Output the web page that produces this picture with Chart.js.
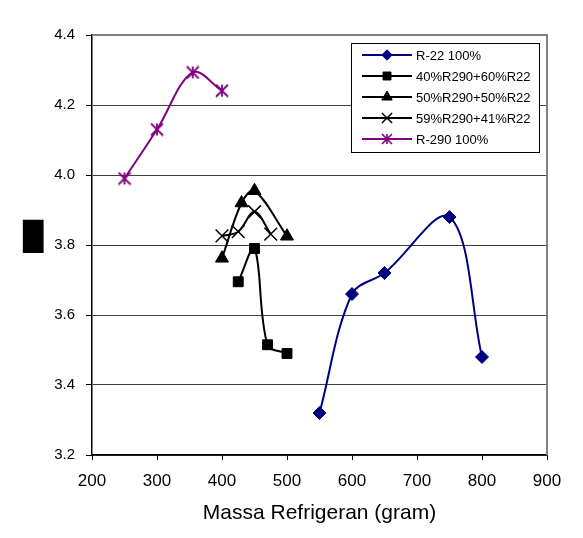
<!DOCTYPE html>
<html>
<head>
<meta charset="utf-8">
<script src="https://cdn.jsdelivr.net/npm/chart.js@4/dist/chart.umd.min.js"></script>
<style>
html,body{margin:0;padding:0;background:#fff;}
#wrap{position:relative;width:583px;height:538px;}
</style>
</head>
<body>
<div id="wrap"><canvas id="c" width="583" height="538"></canvas></div>
<script>
// ---- data ----
const seriesNames = ['R-22 100%', '40%R290+60%R22', '50%R290+50%R22', '59%R290+41%R22', 'R-290 100%'];
const massR22 = [550, 600, 650, 750, 800];
const copR22  = [3.32, 3.66, 3.72, 3.88, 3.48];
const mass40  = [425, 450, 470, 500];
const cop40   = [3.695, 3.79, 3.515, 3.49];
const mass50  = [400, 430, 450, 500];
const cop50   = [3.762, 3.92, 3.955, 3.825];
const mass59  = [400, 425, 450, 475];
const cop59   = [3.826, 3.838, 3.895, 3.831];
const massR290 = [250, 300, 355, 400];
const copR290  = [3.99, 4.13, 4.293, 4.241];
const xTitle = 'Massa Refrigeran (gram)';
const yTitle = '\u2588';

const toPts = (xs, ys) => xs.map((x, i) => ({x: x, y: ys[i]}));

// asterisk marker (X with a vertical bar), like the spreadsheet "star" marker
function makeStar(color, size, lw) {
  const c = document.createElement('canvas');
  c.width = size; c.height = size;
  const g = c.getContext('2d');
  g.strokeStyle = color; g.lineWidth = lw;
  const m = size / 2, h = size / 2 - 1;
  g.beginPath();
  g.moveTo(m - h, m - h); g.lineTo(m + h, m + h);
  g.moveTo(m + h, m - h); g.lineTo(m - h, m + h);
  g.moveTo(m, m - h); g.lineTo(m, m + h);
  g.stroke();
  return c;
}
const starImg = makeStar('#800080', 14, 1.8);
const starImgSmall = makeStar('#800080', 12, 1.6);

const styles = [
  {color: '#000080', pointStyle: 'rectRot', radius: 6.5, bw: 1},
  {color: '#000000', pointStyle: 'rect', radius: 7, bw: 1},
  {color: '#000000', pointStyle: 'triangle', radius: 7.5, bw: 1},
  {color: '#000000', pointStyle: 'crossRot', radius: 9, bw: 1.5},
  {color: '#800080', pointStyle: starImg, radius: 7, bw: 1.5}
];
const dataSets = [toPts(massR22, copR22), toPts(mass40, cop40), toPts(mass50, cop50), toPts(mass59, cop59), toPts(massR290, copR290)];

const datasets = dataSets.map((d, i) => ({
  label: seriesNames[i],
  data: d,
  showLine: true,
  tension: 0.35,
  borderColor: styles[i].color,
  backgroundColor: styles[i].color,
  borderWidth: 2,
  pointStyle: styles[i].pointStyle,
  pointRadius: styles[i].radius,
  pointBorderColor: styles[i].color,
  pointBackgroundColor: styles[i].color,
  pointBorderWidth: styles[i].bw,
  pointHoverRadius: styles[i].radius
}));

const FONT = '"Liberation Sans", Arial, sans-serif';

const framePlugin = {
  id: 'frame',
  beforeDatasetsDraw(chart) {
    const {ctx, chartArea: a} = chart;
    ctx.save();
    ctx.strokeStyle = '#808080';
    ctx.lineWidth = 2;
    ctx.beginPath();
    ctx.moveTo(a.left, a.top);
    ctx.lineTo(a.right, a.top);
    ctx.lineTo(a.right, a.bottom);
    ctx.stroke();
    ctx.restore();
  },
  afterDraw(chart) {
    const {ctx, chartArea: a} = chart;
    // y-axis title (unreadable glyph in the source, shown as a block)
    ctx.save();
    ctx.fillStyle = '#000';
    ctx.font = '28px "DejaVu Sans"';
    ctx.textAlign = 'center';
    ctx.textBaseline = 'middle';
    ctx.translate(a.left - 59, (a.top + a.bottom) / 2 - 6);
    ctx.scale(0.94, 1);
    ctx.fillText(yTitle, 0, 0);
    ctx.restore();

    // legend
    const lx = a.left + 259, ly = a.top + 8, lw = 188, lh = 109;
    ctx.save();
    ctx.fillStyle = '#fff';
    ctx.fillRect(lx, ly, lw, lh);
    ctx.strokeStyle = '#000';
    ctx.lineWidth = 1;
    ctx.strokeRect(lx + 0.5, ly + 0.5, lw, lh);
    ctx.font = '13px ' + FONT;
    ctx.textBaseline = 'middle';
    ctx.textAlign = 'left';
    chart.data.datasets.forEach((ds, i) => {
      const yy = ly + 12 + i * 21;
      ctx.strokeStyle = ds.borderColor;
      ctx.lineWidth = 2;
      ctx.beginPath();
      ctx.moveTo(lx + 11, yy);
      ctx.lineTo(lx + 61, yy);
      ctx.stroke();
      ctx.fillStyle = ds.backgroundColor;
      ctx.strokeStyle = ds.borderColor;
      ctx.lineWidth = ds.pointBorderWidth;
      const ps = (ds.pointStyle === starImg) ? starImgSmall : ds.pointStyle;
      Chart.helpers.drawPoint(ctx, {pointStyle: ps, radius: ds.pointRadius * 0.8, borderWidth: ds.pointBorderWidth, rotation: 0}, lx + 36, yy);
      ctx.fillStyle = '#000';
      ctx.fillText(ds.label, lx + 65, yy + 1);
    });
    ctx.restore();
  }
};

new Chart(document.getElementById('c'), {
  type: 'scatter',
  data: {datasets},
  options: {
    responsive: false,
    animation: false,
    devicePixelRatio: 1,
    layout: {padding: {left: 0, right: 36, top: 35, bottom: 0}},
    plugins: {legend: {display: false}, tooltip: {enabled: false}},
    scales: {
      x: {
        type: 'linear', min: 200, max: 900,
        ticks: {stepSize: 100, color: '#000', font: {family: FONT, size: 17}, padding: 11, maxRotation: 0},
        grid: {drawOnChartArea: false, drawTicks: true, tickLength: 5, tickColor: '#000'},
        border: {color: '#000', width: 1.5},
        title: {display: true, text: xTitle, color: '#000', font: {family: FONT, size: 21}, padding: {top: 4, bottom: 12}},
        afterFit(s) { s.height = 83; }
      },
      y: {
        type: 'linear', min: 3.2, max: 4.4,
        ticks: {stepSize: 0.2, color: '#000', font: {family: FONT, size: 15}, padding: 11,
          callback: v => v.toFixed(1)},
        grid: {color: '#404040', lineWidth: 1, drawTicks: true, tickLength: 6, tickColor: '#000'},
        border: {color: '#000', width: 1.5},
        afterFit(s) { s.width = 92; }
      }
    }
  },
  plugins: [framePlugin]
});
</script>
</body>
</html>
